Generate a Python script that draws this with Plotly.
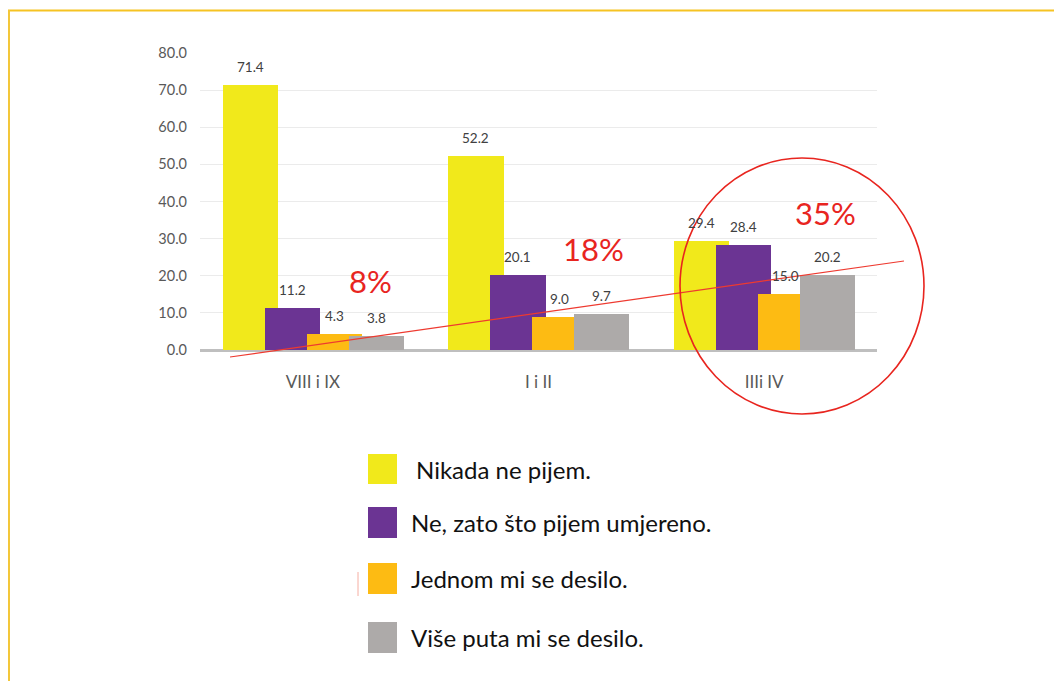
import plotly.graph_objects as go

categories = ["VIII i IX", "I i II", "IIIi IV"]
series_names = ["Nikada ne pijem.", "Ne, zato što pijem umjereno.",
                "Jednom mi se desilo.", "Više puta mi se desilo."]
nikada = [71.4, 52.2, 29.4]
umjereno = [11.2, 20.1, 28.4]
jednom = [4.3, 9.0, 15.0]
vise_puta = [3.8, 9.7, 20.2]
growth_labels = ["8%", "18%", "35%"]
y_ticks = [0, 10, 20, 30, 40, 50, 60, 70, 80]

series = [nikada, umjereno, jednom, vise_puta]
colors = ["#F1E91B", "#6B3493", "#FDBB13", "#ADAAA9"]
offsets = [-0.399, -0.213, -0.027, 0.159]
bar_w = 0.244

# page body has an 8px margin: figure origin sits at screen (8, 8)
OFF = 8
W, H = 1062 - OFF, 681 - OFF
plot_left, plot_right, plot_top, plot_bottom = 200, 877, 53, 350  # screen px
L = plot_left - OFF
R = W - (plot_right - OFF)
T = plot_top - OFF
B = H - (plot_bottom - OFF)
pw, ph = W - L - R, H - T - B

FONT = "Lato, Open Sans, sans-serif"


def px(x):
    return (x - plot_left) / pw


def py(y):
    return (plot_bottom - y) / ph


fig = go.Figure()
for name, vals, col, off in zip(series_names, series, colors, offsets):
    fig.add_trace(go.Bar(
        x=list(range(len(categories))), y=vals, name=name,
        marker=dict(color=col, line=dict(width=0)),
        width=bar_w, offset=off, showlegend=False,
    ))
    for i, v in enumerate(vals):
        fig.add_annotation(
            x=i + off + bar_w / 2, y=v, text=f"{v:.1f}", showarrow=False,
            xref="x", yref="y", yanchor="bottom", yshift=8,
            font=dict(family=FONT, size=13.5, color="#404040"),
        )

# red percentage annotations
growth_pos = [(370, 281), (593, 249), (825, 213)]
for txt, (gx, gy) in zip(growth_labels, growth_pos):
    fig.add_annotation(
        x=px(gx), y=py(gy), xref="paper", yref="paper", text=txt, showarrow=False,
        xanchor="center", yanchor="middle",
        font=dict(family=FONT, size=31, color="#E8251F"),
    )

# red trend line and circle
fig.add_shape(type="line", xref="paper", yref="paper",
              x0=px(230), y0=py(357), x1=px(904), y1=py(261),
              line=dict(color="#EE3A30", width=1.2))
fig.add_shape(type="circle", xref="paper", yref="paper",
              x0=px(680), x1=px(924), y0=py(414), y1=py(158),
              line=dict(color="#E8251F", width=1.6))

# frame
fig.add_shape(type="line", xref="paper", yref="paper",
              x0=px(8), y0=py(10.5), x1=px(1070), y1=py(10.5),
              line=dict(color="#F6C323", width=2))
fig.add_shape(type="line", xref="paper", yref="paper",
              x0=px(9), y0=py(10), x1=px(9), y1=py(690),
              line=dict(color="#F3C73A", width=2))

# custom legend
legend_rows = [(454, 484, 414), (507, 538, 409), (563, 594, 409), (622, 653, 409)]
for name, col, (y0, y1, tx) in zip(series_names, colors, legend_rows):
    fig.add_shape(type="rect", xref="paper", yref="paper",
                  x0=px(368), x1=px(397), y0=py(y1), y1=py(y0),
                  fillcolor=col, line=dict(width=0))
    fig.add_annotation(
        x=px(tx), y=py((y0 + y1) / 2), xref="paper", yref="paper", text=name,
        showarrow=False, xanchor="left", yanchor="middle",
        font=dict(family=FONT, size=24, color="#111111"),
    )
# small red artifact near legend
fig.add_shape(type="line", xref="paper", yref="paper",
              x0=px(358), x1=px(358), y0=py(572), y1=py(596),
              line=dict(color="rgba(240,120,100,0.6)", width=1))

fig.update_layout(
    width=W, height=H, barmode="overlay", bargap=0,
    margin=dict(l=L, r=R, t=T, b=B),
    plot_bgcolor="white", paper_bgcolor="white",
    xaxis=dict(
        tickmode="array", tickvals=list(range(len(categories))), ticktext=categories,
        range=[-0.5, len(categories) - 0.5], showgrid=False, zeroline=False,
        showline=False, ticks="", ticklabelstandoff=20,
        tickfont=dict(family=FONT, size=17, color="#595959"),
    ),
    yaxis=dict(
        range=[0, 80], tickvals=y_ticks, tickformat=".1f",
        showgrid=True, gridcolor="#EBEBEB", gridwidth=1,
        zeroline=True, zerolinecolor="#BFBFBF", zerolinewidth=2.5,
        showline=False, ticks="", ticklabelstandoff=12,
        tickfont=dict(family=FONT, size=14.5, color="#595959"),
    ),
)

fig.write_html("out.html")
